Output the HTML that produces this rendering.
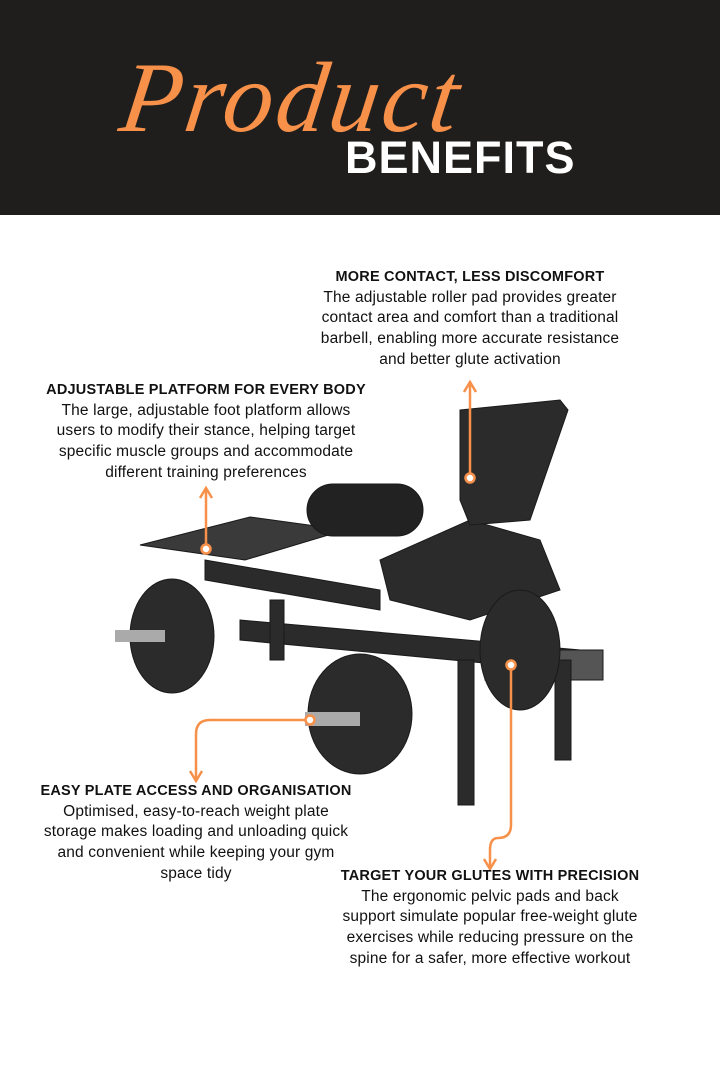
<!DOCTYPE html>
<html><head><meta charset="utf-8"><style>
body{margin:0;width:720px;height:1080px;background:#fff;position:relative;overflow:hidden;font-family:"Liberation Sans",sans-serif;color:#111}
.hdr{position:absolute;left:0;top:0;width:720px;height:215px;background:#1f1e1d}
.t{position:absolute;text-align:center;font-size:15.5px;line-height:20.7px;white-space:nowrap;letter-spacing:.15px}
.t b{display:block;font-size:14.5px;letter-spacing:.2px}
</style></head><body>
<div class="hdr">
<div style="position:absolute;left:122px;top:40px;font-family:'Liberation Serif',serif;font-style:italic;font-size:100px;color:#f79049;letter-spacing:3px;transform:skewX(-8deg)">Product</div>
<div style="position:absolute;left:345px;top:132px;font-weight:bold;font-size:45px;color:#fff;letter-spacing:1px">BENEFITS</div>
</div>
<svg style="position:absolute;left:0;top:0" width="720" height="1080">
<g fill="#2b2b2b" stroke="#1a1a1a">
<polygon points="140,545 250,517 345,530 245,560" fill="#3a3a3a"/>
<polygon points="205,560 380,590 380,610 205,580"/>
<polygon points="240,620 580,650 580,672 240,640"/>
<polygon points="380,560 470,520 540,540 560,590 470,620 390,600"/>
<polygon points="460,410 560,400 568,410 530,520 470,525 460,500"/>
<rect x="307" y="484" width="116" height="52" rx="26" fill="#222"/>
<rect x="485" y="650" width="118" height="30" fill="#555"/>
<rect x="458" y="660" width="16" height="145"/>
<rect x="555" y="660" width="16" height="100"/>
<rect x="270" y="600" width="14" height="60"/>
<ellipse cx="172" cy="636" rx="42" ry="57"/>
<ellipse cx="360" cy="714" rx="52" ry="60"/>
<ellipse cx="520" cy="650" rx="40" ry="60"/>
</g>
<rect x="115" y="630" width="50" height="12" fill="#aaa"/>
<rect x="305" y="712" width="55" height="14" fill="#aaa"/>
<g stroke="#f79049" stroke-width="2.5" fill="none">
<path d="M470,474 V384"/><path d="M464,392 L470,382 L476,392"/>
<circle cx="470" cy="478" r="4.5" fill="#fff"/>
<path d="M206,545 V490"/><path d="M200,498 L206,488 L212,498"/>
<circle cx="206" cy="549" r="4.5" fill="#fff"/>
<path d="M306,720 H210 Q196,720 196,734 V779"/><path d="M190,771 L196,781 L202,771"/>
<circle cx="310" cy="720" r="4.5" fill="#fff"/>
<path d="M511,670 V825 Q511,838 498,838 Q490,838 490,850 V867"/><path d="M484,859 L490,869 L496,859"/>
<circle cx="511" cy="665" r="4.5" fill="#fff"/>
</g>
</svg>
<div class="t" style="left:300px;top:267px;width:340px"><b>MORE CONTACT, LESS DISCOMFORT</b>The adjustable roller pad provides greater<br>contact area and comfort than a traditional<br>barbell, enabling more accurate resistance<br>and better glute activation</div>
<div class="t" style="left:38px;top:380px;width:336px"><b>ADJUSTABLE PLATFORM FOR EVERY BODY</b>The large, adjustable foot platform allows<br>users to modify their stance, helping target<br>specific muscle groups and accommodate<br>different training preferences</div>
<div class="t" style="left:28px;top:781px;width:336px"><b>EASY PLATE ACCESS AND ORGANISATION</b>Optimised, easy-to-reach weight plate<br>storage makes loading and unloading quick<br>and convenient while keeping your gym<br>space tidy</div>
<div class="t" style="left:322px;top:866px;width:336px"><b>TARGET YOUR GLUTES WITH PRECISION</b>The ergonomic pelvic pads and back<br>support simulate popular free-weight glute<br>exercises while reducing pressure on the<br>spine for a safer, more effective workout</div>
</body></html>
